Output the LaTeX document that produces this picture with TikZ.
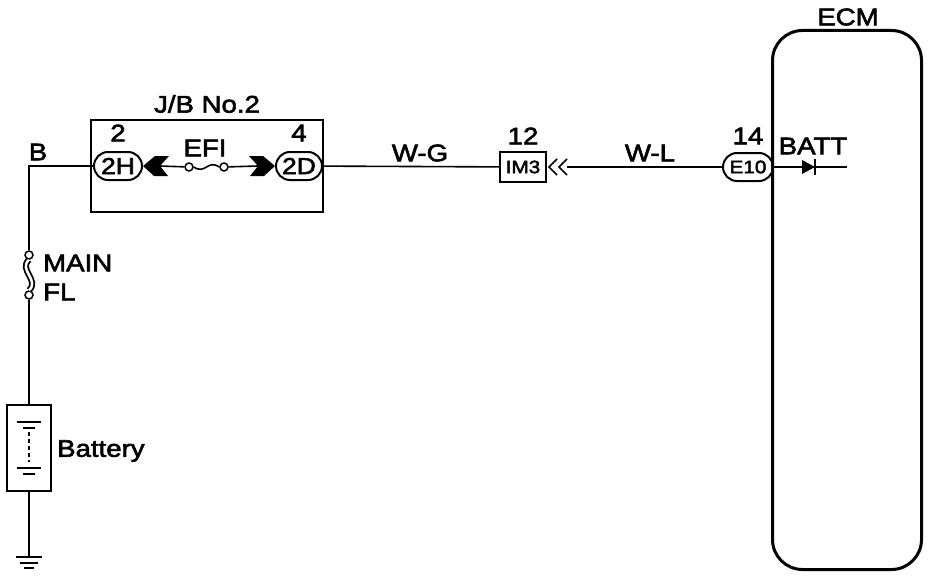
\documentclass[tikz,border=0pt]{standalone}
\usepackage{fontspec}
\setmainfont{Liberation Sans}[FakeStretch=1.15,FakeBold=2.5]
\usetikzlibrary{shapes,arrows,positioning}
\tikzset{wire/.style={draw,line width=1.6pt}}
\tikzset{boxline/.style={draw,line width=2.2pt}}
\tikzset{lbl/.style={inner sep=0pt,font=\fontsize{24}{26}\selectfont}}
\tikzset{plug/.style={rounded rectangle,draw,line width=2pt,inner sep=0pt,minimum width=48pt,minimum height=28pt,font=\fontsize{23}{25}\selectfont}}
\tikzset{smallplug/.style={plug,minimum width=50pt,font=\fontsize{18}{20}\selectfont}}
\tikzset{term/.style={circle,draw,line width=1.5pt,fill=white,inner sep=0pt,minimum size=8pt}}

\begin{document}
\begin{tikzpicture}[x=1pt,y=-1pt]
    \useasboundingbox (0,0) rectangle (944,578);

    % J/B No.2
    \node[boxline,rectangle,minimum width=232pt,minimum height=92pt] (jb) at (207,166) {};
    \node[lbl] (jbname) at (207,104) {J/B No.2};
    \node[plug] (p2H) at (118,166) {2H};
    \node[plug,minimum width=46pt] (p2D) at (299,166) {2D};
    \node[lbl,above of=p2H,node distance=33pt] (n2) {2};
    \node[lbl,above of=p2D,node distance=33pt] (n4) {4};
    \node[term] (efia) at (189,167) {};
    \node[term] (efib) at (224,167) {};
    \node[lbl] (efi) at (205,148) {EFI};
    \coordinate (chl) at (160,166);
    \coordinate (chr) at (258,166);
    \fill (p2H.east) -- ++(12,-10) -- ++(14,0) -- (chl) -- ++(8,10) -- ++(-14,0) -- cycle;
    \fill (p2D.west) -- ++(-12,-10) -- ++(-14,0) -- (chr) -- ++(-8,10) -- ++(14,0) -- cycle;
    \path[wire] (chl) -- (efia);
    \path[wire] (efib) -- (chr);
    \path[wire] (efia.east) .. controls +(12,8) and +(-12,-8) .. (efib.west);

    % battery side
    \coordinate (bcorner) at (29,166);
    \node[lbl] (bname) at (38,152) {B};
    \node[term] (mfa) at (29,255) {};
    \node[term] (mfb) at (29,295) {};
    \node[lbl,anchor=west] (main) at (43,263) {MAIN};
    \node[lbl,anchor=west] (fl) at (43,292) {FL};
    \node[boxline,rectangle,minimum width=44pt,minimum height=86pt] (bat) at (29,448) {};
    \node[lbl,anchor=west] (batname) at (57,451) {Battery};
    \coordinate (gnd) at (29,557);

    \path[wire] (p2H) -- (bcorner) -- (mfa);
    \path[wire,double,double distance=2.5pt,line width=1.8pt] (mfa.south) .. controls +(-11,10) and +(11,-10) .. (mfb.north);
    \path[wire] (mfb) -- (bat);
    \path[wire] (bat) -- (gnd);
    \draw[line width=2pt] (17,422) -- (41,422);
    \draw[line width=2pt] (23,428) -- (35,428);
    \draw[line width=1.5pt,dash pattern=on 4pt off 3pt] (29,432) -- (29,462);
    \draw[line width=2pt] (17,468) -- (41,468);
    \draw[line width=2pt] (23,474) -- (35,474);
    \draw[line width=2pt] (16,557) -- (42,557);
    \draw[line width=2pt] (20,563) -- (38,563);
    \draw[line width=2pt] (24,568) -- (34,568);

    % IM3 and ECM
    \node[boxline,rectangle,minimum width=46pt,minimum height=30pt,inner sep=0pt,font=\fontsize{18}{20}\selectfont] (im3) at (523,167) {IM3};
    \node[lbl,above of=im3,node distance=31pt] (n12) {12};
    \draw[line width=1.6pt] (557,159) -- (549,167) -- (557,175);
    \draw[line width=1.6pt] (567,159) -- (559,167) -- (567,175);
    \coordinate (imr) at (567,167);
    \node[smallplug] (e10) at (748,167) {E10};
    \node[lbl,above of=e10,node distance=31pt] (n14) {14};
    \node[lbl] (wg) at (420,153) {W-G};
    \node[lbl] (wl) at (650,153) {W-L};
    \path[wire] (p2D) -- (im3);
    \path[wire] (imr) -- (e10);

    \node[rectangle,draw,line width=3pt,rounded corners=30pt,minimum width=149pt,minimum height=539pt] (ecm) at (847,300) {};
    \node[lbl] (ecmname) at (848,17) {ECM};
    \node[lbl] (batt) at (813,146) {BATT};
    \coordinate (ecmin) at (ecm.west |- e10);
    \coordinate (battend) at (847,167);
    \path[wire] (ecmin) -- (battend);
    \fill (802,160) -- (815,167) -- (802,174) -- cycle;
    \draw[line width=2pt] (815,159) -- (815,175);
\end{tikzpicture}
\end{document}
